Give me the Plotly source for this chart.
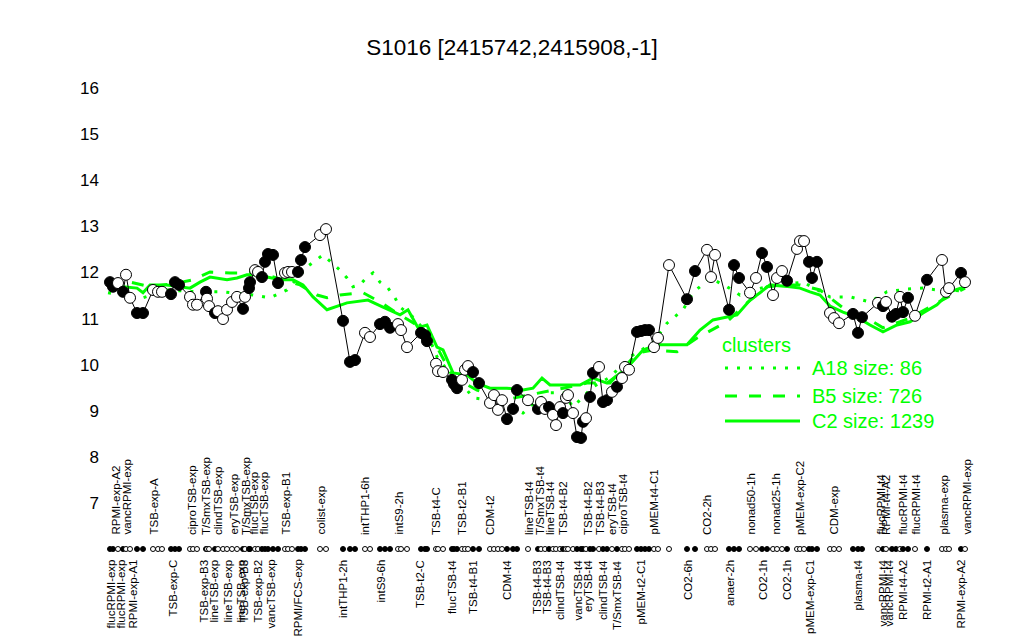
import plotly.graph_objects as go

# ---------------- data ----------------
# sample positions along the x axis (sample order) and expression values
pos = [110, 113, 118, 123, 126, 130, 137, 143,
       153, 158, 162,
       171, 175, 179,
       190, 193, 197,
       206, 207, 209, 215, 218, 223, 227, 232, 237, 243, 245, 249, 250, 255, 258, 262, 265, 268, 273, 278, 285, 288, 292,
       298, 301, 305,
       320, 326,
       343, 350, 355,
       365, 370,
       380, 385, 390,
       398, 401, 407,
       421, 425, 427,
       436, 438, 443,
       452, 454, 457,
       462, 465, 468,
       473, 479,
       490, 494, 498, 502,
       507, 513, 517,
       528, 538, 541, 545, 549, 553, 556, 560, 563, 566, 568, 573, 577, 581, 583, 586, 590, 593, 599, 603, 607, 612, 617, 622, 625, 629,
       637, 641, 645, 649,
       654, 658,
       669,
       687, 695,
       707, 711, 715,
       729, 734, 739,
       750, 756,
       762, 767,
       773, 777, 782,
       787,
       797, 800, 804,
       809, 812, 817,
       830, 834, 839,
       853, 858, 862,
       878, 883, 886, 892, 896, 900, 903, 908, 915,
       927,
       942, 946, 949,
       961,
       965]
expr = [11.79, 11.69, 11.77, 11.58, 11.95, 11.45, 11.12, 11.12,
        11.62, 11.58, 11.58,
        11.53, 11.79, 11.73,
        11.47, 11.30, 11.30,
        11.58, 11.43, 11.27, 11.12, 11.16, 10.99, 11.19, 11.36, 11.47, 11.21, 11.47, 11.66, 11.79, 12.05, 12.01, 11.90, 12.23, 12.40, 12.38, 11.77, 11.99, 12.01, 12.01,
        12.01, 12.27, 12.55,
        12.81, 12.94,
        10.95, 10.06, 10.10,
        10.69, 10.60,
        10.88, 10.93, 10.80,
        10.88, 10.75, 10.38,
        10.69, 10.64, 10.51,
        10.02, 9.86, 9.84,
        9.67, 9.58, 9.49,
        9.67, 9.89, 9.97,
        9.84, 9.60,
        9.17, 9.34, 9.02, 9.23,
        8.82, 9.04, 9.45,
        9.23, 9.04, 9.19, 9.04, 9.08, 8.91, 8.69, 9.08, 8.95, 9.28, 9.34, 8.95, 8.43, 8.41, 8.76, 8.84, 9.30, 9.82, 9.95, 9.19, 9.23, 9.41, 9.52, 9.71, 9.95, 9.89,
        10.71, 10.73, 10.75, 10.75,
        10.38, 10.58,
        12.16,
        11.42, 12.03,
        12.49, 11.90, 12.38,
        11.19, 12.16, 11.88,
        11.56, 11.88,
        12.42, 12.12,
        11.51, 11.88, 12.03,
        11.82,
        12.51, 12.68, 12.68,
        12.23, 11.88, 12.23,
        11.12, 11.01, 10.90,
        11.10, 10.69, 11.03,
        11.34, 11.27, 11.36, 11.04, 11.10, 11.47, 11.14, 11.45, 11.06,
        11.84,
        12.27, 11.58, 11.66,
        11.99,
        11.79]
filled = [1, 1, 0, 1, 0, 0, 1, 1,
          0, 0, 0,
          1, 1, 1,
          0, 0, 0,
          1, 0, 0, 1, 0, 0, 0, 0, 0, 1, 0, 1, 1, 0, 0, 1, 1, 1, 1, 1, 0, 0, 0,
          1, 1, 1,
          0, 0,
          1, 1, 1,
          0, 0,
          1, 1, 1,
          0, 0, 0,
          1, 1, 1,
          0, 0, 0,
          1, 1, 1,
          0, 0, 0,
          1, 1,
          0, 0, 0, 0,
          1, 1, 1,
          0, 1, 0, 0, 1, 0, 0, 0, 1, 0, 0, 0, 1, 1, 1, 0, 1, 1, 0, 1, 1, 0, 1, 0, 0, 0,
          1, 1, 1, 1,
          0, 0,
          0,
          1, 1,
          0, 0, 0,
          1, 1, 1,
          0, 0,
          1, 1,
          0, 0, 0,
          1,
          0, 0, 0,
          1, 1, 1,
          0, 0, 0,
          1, 1, 1,
          0, 1, 0, 1, 1, 0, 1, 1, 0,
          1,
          0, 0, 0,
          1,
          0]

top_label_pos = [115, 126, 153, 192, 206, 218, 233, 246, 253, 263, 285, 320, 365, 398, 436, 462, 490,
                 529, 540, 550, 563, 588, 600, 612, 622, 653, 707, 750, 775, 800, 833, 880, 886, 902, 915, 943, 966]
top_label_text = ["RPMI-exp-A2", "vancRPMI-exp", "TSB-exp-A", "ciproTSB-exp", "T/SmxTSB-exp", "clindTSB-exp",
                  "eryTSB-exp", "T/SmxTSB-exp", "flucTSB-exp", "flucTSB-exp", "TSB-exp-B1", "colist-exp",
                  "intTHP1-6h", "intS9-2h", "TSB-t4-C", "TSB-t2-B1", "CDM-t2",
                  "lineTSB-t4", "T/SmxTSB-t4", "lineTSB-t4", "TSB-t4-B2", "TSB-t4-B2", "TSB-t4-B3", "eryTSB-t4",
                  "ciproTSB-t4", "pMEM-t4-C1", "CO2-2h", "nonad50-1h", "nonad25-1h", "pMEM-exp-C2", "CDM-exp",
                  "flucRPMI-t4", "RPMI-t4-A2", "flucRPMI-t4", "flucRPMI-t4", "plasma-exp", "vancRPMI-exp"]
bottom_label_pos = [110, 120, 132, 172, 203, 213, 227, 240, 243, 257, 270, 297, 343, 380, 420, 452, 473, 507,
                    537, 547, 560, 577, 588, 603, 617, 640, 688, 730, 763, 787, 810, 857, 882, 888, 903, 927, 960]
bottom_label_text = ["flucRPMI-exp", "flucRPMI-exp", "RPMI-exp-A1", "TSB-exp-C", "TSB-exp-B3", "lineTSB-exp",
                     "lineTSB-exp", "lineTSB-exp", "TSB-exp-B3", "TSB-exp-B2", "vancTSB-exp", "RPMI/FCS-exp",
                     "intTHP1-2h", "intS9-6h", "TSB-t2-C", "flucTSB-t4", "TSB-t4-B1", "CDM-t4",
                     "TSB-t4-B3", "TSB-t4-B3", "clindTSB-t4", "vancTSB-t4", "eryTSB-t4", "clindTSB-t4", "T/SmxTSB-t4",
                     "pMEM-t2-C1", "CO2-6h", "anaer-2h", "CO2-1h", "CO2-1h", "pMEM-exp-C1", "plasma-t4",
                     "vancRPMI-t4", "vancRPMI-t4", "RPMI-t4-A2", "RPMI-t2-A1", "RPMI-exp-A2"]

# cluster profiles
a18_pos = [108, 143, 167, 197, 223, 253, 270, 287, 307, 323, 340, 347, 353, 360, 367, 373, 380, 388, 395, 400,
           413, 427, 437, 453, 467, 473, 490, 510, 523, 537, 550, 563, 573, 593, 610, 630, 653, 667, 683, 693,
           710, 727, 740, 753, 767, 803, 830, 850, 870, 887, 907, 923, 937, 965]
a18_val = [11.56, 11.45, 11.62, 11.58, 11.58, 11.51, 11.45, 11.62, 12.12, 12.38, 12.05, 11.88, 11.69, 11.73, 11.90,
           11.99, 11.79, 11.66, 11.45, 11.25, 11.03, 10.69, 10.17, 9.73, 9.45, 9.28, 9.23, 9.08, 8.95, 9.23, 9.39,
           9.39, 9.08, 9.52, 9.73, 10.17, 10.47, 10.90, 11.19, 11.56, 11.88, 11.69, 11.51, 11.62, 11.69, 11.79,
           11.47, 11.47, 11.36, 11.58, 11.64, 11.66, 11.62, 11.60]
b5_pos = [108, 130, 150, 177, 193, 210, 230, 243, 257, 277, 300, 317, 327, 340, 363, 380, 397, 420, 437, 453,
          477, 503, 520, 543, 563, 587, 610, 637, 653, 677, 697, 727, 747, 767, 780, 800, 820, 843, 870, 883,
          910, 937, 965]
b5_val = [11.77, 11.79, 11.69, 11.77, 11.84, 12.01, 11.99, 11.99, 12.01, 11.88, 11.73, 11.51, 11.45, 11.51, 11.56,
          11.36, 11.12, 10.82, 10.38, 9.73, 9.45, 9.23, 9.30, 9.41, 9.49, 9.60, 9.60, 10.25, 10.32, 10.28, 10.58,
          10.93, 11.34, 11.69, 11.73, 11.73, 11.62, 11.23, 10.97, 10.80, 11.01, 11.34, 11.66]
c2_pos = [108, 123, 137, 143, 150, 167, 180, 190, 200, 210, 227, 237, 247, 257, 267, 280, 293, 303, 313, 327,
          347, 368, 383, 400, 408, 418, 427, 437, 443, 453, 467, 477, 490, 507, 523, 533, 542, 550, 563, 580,
          593, 607, 627, 643, 657, 667, 687, 700, 713, 737, 750, 760, 770, 790, 800, 810, 820, 830, 843, 857,
          870, 883, 897, 910, 923, 937, 950, 965]
c2_val = [11.69, 11.69, 11.66, 11.56, 11.73, 11.73, 11.69, 11.66, 11.79, 11.90, 11.84, 11.88, 11.95, 11.95, 11.90,
          11.84, 11.84, 11.73, 11.47, 11.19, 11.34, 11.40, 11.25, 11.08, 11.19, 10.80, 10.86, 10.38, 10.32, 9.82,
          9.78, 9.60, 9.49, 9.49, 9.45, 9.49, 9.71, 9.56, 9.56, 9.56, 9.71, 9.60, 9.93, 10.32, 10.43, 10.43,
          10.43, 10.75, 10.97, 11.08, 11.40, 11.56, 11.73, 11.69, 11.66, 11.58, 11.51, 11.27, 11.14, 11.03,
          10.86, 10.71, 10.86, 10.93, 11.12, 11.30, 11.58, 11.69]
cluster_names = ["A18 size: 86", "B5 size: 726", "C2 size: 1239"]

title_text = "S1016 [2415742,2415908,-1]"
y_ticks = [7, 8, 9, 10, 11, 12, 13, 14, 15, 16]

# ---------------- layout geometry (pixels) ----------------
W, H = 1024, 640
PL, PR, PT, PB = 100, 975, 60, 640
PX_PER_UNIT = (503 - 88) / 9.0
y_top = 16 + (88 - PT) / PX_PER_UNIT
y_bot = 7 - (PB - 503) / PX_PER_UNIT

def yval(py):
    return 7 + (503 - py) / PX_PER_UNIT

def xp(px):
    return (px - PL) / (PR - PL)

def yp(py):
    return (PB - py) / (PB - PT)

GREEN = "#00FF00"
FONT = "Liberation Sans, Arial, sans-serif"
LABEL_SIZE = 11.5

fig = go.Figure()

dash_styles = ["3px,9px", "12px,12px", "solid"]
for xs, ys, d in [(a18_pos, a18_val, dash_styles[0]), (b5_pos, b5_val, dash_styles[1]), (c2_pos, c2_val, dash_styles[2])]:
    fig.add_trace(go.Scatter(x=xs, y=ys, mode="lines", line=dict(color=GREEN, width=3, dash=d),
                             hoverinfo="skip", showlegend=False))

fig.add_trace(go.Scatter(x=pos, y=expr, mode="lines", line=dict(color="black", width=1),
                         showlegend=False, hoverinfo="skip"))
fig.add_trace(go.Scatter(x=pos, y=expr, mode="markers",
                         marker=dict(symbol="circle", size=11,
                                     color=["black" if f else "white" for f in filled],
                                     line=dict(color="black", width=1)),
                         showlegend=False))
# strip of sample markers below the plot
dot_level = yval(549)
fig.add_trace(go.Scatter(x=pos, y=[dot_level] * len(pos), mode="markers",
                         marker=dict(symbol="circle", size=5,
                                     color=["black" if f else "white" for f in filled],
                                     line=dict(color="black", width=1)),
                         showlegend=False, hoverinfo="skip"))

annotations = []
for x, t in zip(top_label_pos, top_label_text):
    annotations.append(dict(x=x, y=yval(536), xref="x", yref="y", text=t, showarrow=False,
                            textangle=-90, xanchor="center", yanchor="bottom",
                            font=dict(family=FONT, size=LABEL_SIZE, color="black"), borderpad=0))
for x, t in zip(bottom_label_pos, bottom_label_text):
    annotations.append(dict(x=x, y=yval(559), xref="x", yref="y", text=t, showarrow=False,
                            textangle=-90, xanchor="center", yanchor="top",
                            font=dict(family=FONT, size=LABEL_SIZE, color="black"), borderpad=0))

# legend
annotations.append(dict(x=xp(720), y=yp(345), xref="paper", yref="paper", text="clusters", showarrow=False,
                        xanchor="left", yanchor="middle", font=dict(family=FONT, size=20, color=GREEN)))
shapes = []
leg_rows = [368, 396, 421]
for py, name, d in zip(leg_rows, cluster_names, dash_styles):
    shapes.append(dict(type="line", xref="paper", yref="paper", x0=xp(725), x1=xp(800), y0=yp(py), y1=yp(py),
                       line=dict(color=GREEN, width=3, dash=d)))
    annotations.append(dict(x=xp(810), y=yp(py), xref="paper", yref="paper", text=name, showarrow=False,
                            xanchor="left", yanchor="middle", font=dict(family=FONT, size=20, color=GREEN)))

fig.update_layout(
    width=W, height=H,
    margin=dict(l=PL, r=W - PR, t=PT, b=H - PB, pad=0),
    plot_bgcolor="white", paper_bgcolor="white",
    title=dict(text=title_text, x=0.5, xref="container", y=1 - 47 / H, yref="container",
               xanchor="center", yanchor="middle", font=dict(family=FONT, size=22.5, color="black")),
    xaxis=dict(range=[PL, PR], visible=False, showgrid=False, zeroline=False),
    yaxis=dict(range=[y_bot, y_top], tickvals=y_ticks, ticktext=[str(v) for v in y_ticks],
               ticks="", showgrid=False, zeroline=False, showline=False,
               tickfont=dict(family=FONT, size=17, color="black")),
    annotations=annotations, shapes=shapes, showlegend=False,
)

fig.write_html("out.html", config={"displayModeBar": False},
               post_script="document.body.style.margin='0';document.body.style.overflow='hidden';")
